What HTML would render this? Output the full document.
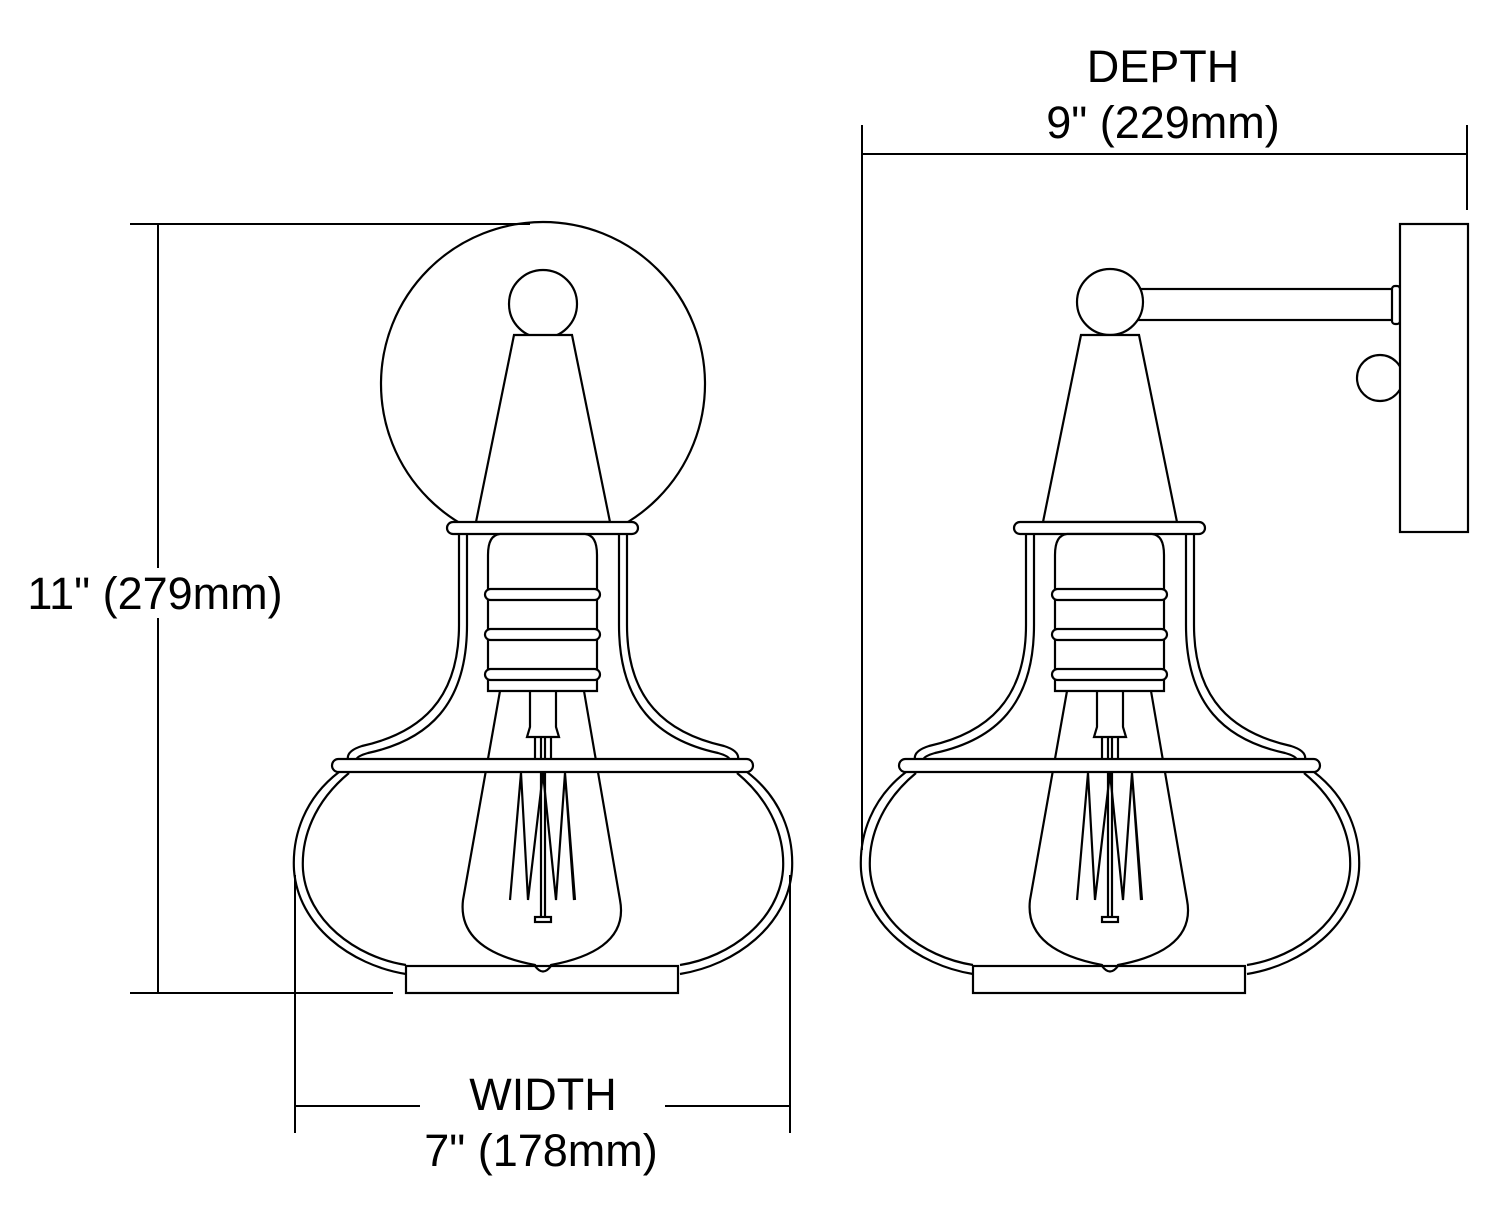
<!DOCTYPE html>
<html><head><style>
html,body{margin:0;padding:0;background:#fff;}
svg{display:block;}
text{font-family:"Liberation Sans",sans-serif;font-size:45px;fill:#000;text-anchor:middle;}
</style></head><body>
<svg width="1500" height="1224" viewBox="0 0 1500 1224" xmlns="http://www.w3.org/2000/svg">
<defs>
<g id="lamp" fill="none" stroke="#000" stroke-width="2.2">
  <path d="M514,335 L572,335 L610,522 L476,522 Z" fill="#fff"/>
  <g id="half">
    <path d="M459,534 L459,625 C459,700 420,733 362,746 Q346,751 348,760"/>
    <path d="M467,534 L467,625 C467,705 428,740 368,753 Q357,756 356,760"/>
    <path d="M339,772 C305,798 292,835 294,870 C298,925 350,965 406,974"/>
    <path d="M349,773 C314,802 301,838 303,870 C307,920 355,957 406,965"/>
  </g>
  <use href="#half" transform="translate(1086,0) scale(-1,1)"/>
  <rect x="470" y="533" width="146" height="20" fill="#fff" stroke="none"/>
  <rect x="447" y="522" width="191" height="12" rx="6" fill="#fff"/>
  <path d="M488,691 L488,555 Q488,535 500,534 L585,534 Q597,535 597,555 L597,691 Z" fill="#fff"/>
  <rect x="485" y="589" width="115" height="11" rx="5.5" fill="#fff"/>
  <rect x="485" y="629" width="115" height="11" rx="5.5" fill="#fff"/>
  <rect x="485" y="669" width="115" height="11" rx="5.5" fill="#fff"/>
  <path d="M500,691 L463,900 C458,942 498,958 535,965 Q543,977 551,965 C588,958 628,942 620,900 L584,691"/>
  <path d="M530,691 L530,727 L527,737 L559,737 L556,727 L556,691"/>
  <line x1="535" y1="737" x2="535" y2="759"/><line x1="541" y1="737" x2="541" y2="759"/>
  <line x1="545" y1="737" x2="545" y2="759"/><line x1="551" y1="737" x2="551" y2="759"/>
  <path d="M521,773 L510,900 M521,773 L528,900 L543,773 L556,900 L565,773 L574,900 M565,773 L575,900"/>
  <line x1="541" y1="773" x2="541" y2="918"/><line x1="545" y1="773" x2="545" y2="918"/>
  <rect x="535" y="917" width="16" height="5"/>
  <rect x="332" y="759" width="421" height="13" rx="6.5" fill="#fff"/>
  <rect x="406" y="966" width="272" height="27" fill="#fff"/>
  <path d="M535,966 Q543,977 551,966"/>
</g>
</defs>
<circle cx="543" cy="384" r="162" fill="none" stroke="#000" stroke-width="2.2"/>
<circle cx="543" cy="304" r="34" fill="#fff" stroke="#000" stroke-width="2.2"/>
<use href="#lamp"/>
<g fill="#fff" stroke="#000" stroke-width="2.2">
  <rect x="1136" y="289" width="258" height="31"/>
  <rect x="1392" y="286" width="8" height="38" rx="3"/>
  <circle cx="1380" cy="378" r="23"/>
  <rect x="1400" y="224" width="68" height="308"/>
  <circle cx="1110" cy="302" r="33"/>
</g>
<use href="#lamp" transform="translate(567,0)"/>
<g stroke="#000" stroke-width="2" fill="none">
  <line x1="158" y1="224" x2="158" y2="993"/>
  <line x1="130" y1="224" x2="530" y2="224"/>
  <line x1="130" y1="993" x2="393" y2="993"/>
  <line x1="295" y1="875" x2="295" y2="1133"/>
  <line x1="790" y1="875" x2="790" y2="1133"/>
  <line x1="295" y1="1106" x2="420" y2="1106"/>
  <line x1="665" y1="1106" x2="790" y2="1106"/>
  <line x1="862" y1="125" x2="862" y2="850"/>
  <line x1="1467" y1="125" x2="1467" y2="210"/>
  <line x1="862" y1="154" x2="1467" y2="154"/>
</g>
<rect x="25" y="568" width="262" height="50" fill="#fff"/>
<text x="155" y="609">11" (279mm)</text>
<text x="543" y="1110">WIDTH</text>
<text x="541" y="1166">7" (178mm)</text>
<text x="1163" y="82">DEPTH</text>
<text x="1163" y="138">9" (229mm)</text>
</svg>
</body></html>
